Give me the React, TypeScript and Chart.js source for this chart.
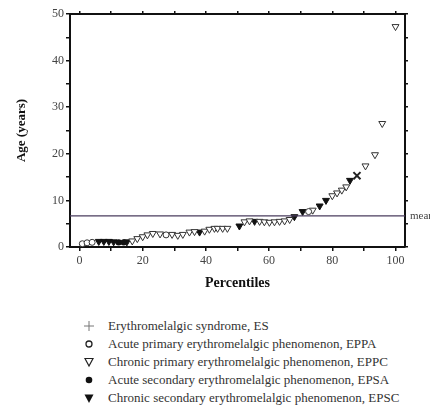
import React, { useEffect, useRef } from "react";
import { Chart, registerables } from "chart.js";

Chart.register(...registerables);

// [percentile, age in years]
const esPoints: [number, number][] = [[87.8, 15.3]];
const eppaPoints: [number, number][] = [
  [0.9, 0.7], [2.4, 0.9], [4.0, 1.0], [27.4, 2.6], [72.5, 7.6],
];
const eppcPoints: [number, number][] = [
  [16.7, 1.3], [18.3, 1.8], [20.0, 2.2], [21.5, 2.6], [23.2, 2.9], [25.5, 2.8],
  [29.3, 2.7], [31.1, 2.5], [32.7, 2.7], [34.8, 3.2], [36.4, 3.3], [39.6, 3.4],
  [41.1, 3.8], [42.7, 4.0], [43.7, 4.0], [45.3, 4.0], [46.8, 4.0], [52.2, 5.4],
  [53.8, 5.6], [57.0, 5.5], [58.5, 5.4], [60.1, 5.3], [61.7, 5.4], [63.3, 5.5],
  [64.9, 5.6], [66.5, 5.9], [73.8, 7.9], [80.0, 11.0], [81.5, 11.6], [83.0, 12.2],
  [84.4, 12.9], [90.5, 17.4], [93.5, 19.8], [95.8, 26.5], [100.0, 47.3],
];
const epsaPoints: [number, number][] = [[12.4, 1.0], [14.0, 1.0]];
const epscPoints: [number, number][] = [
  [6.1, 1.2], [7.7, 1.2], [9.3, 1.2], [10.8, 1.1], [15.0, 1.1], [38.0, 3.2],
  [50.6, 4.5], [55.4, 5.5], [68.0, 6.5], [70.6, 7.6], [76.0, 8.8], [78.0, 10.0],
  [85.6, 14.3],
];
const meanAge = 6.7;
const xRange = [-3, 103];
const yRange = [0, 50];
const xTicks = [0, 10, 20, 30, 40, 50, 60, 70, 80, 90, 100];
const yTicks = [0, 5, 10, 15, 20, 25, 30, 35, 40, 45, 50];

const legendLabels = [
  "Erythromelalgic syndrome, ES",
  "Acute primary erythromelalgic phenomenon, EPPA",
  "Chronic primary erythromelalgic phenomenon, EPPC",
  "Acute secondary erythromelalgic phenomenon, EPSA",
  "Chronic secondary erythromelalgic phenomenon, EPSC",
];

const FONT = "'Liberation Serif', 'Times New Roman', serif";
const toXY = (arr: [number, number][]) => arr.map(([x, y]) => ({ x, y }));

function LegendMarker({ kind }: { kind: number }) {
  const s = { width: 12, height: 12, display: "block" } as React.CSSProperties;
  if (kind === 0)
    return (
      <svg style={s} viewBox="0 0 12 12">
        <line x1="1" y1="6" x2="11" y2="6" stroke="#777" strokeWidth="1" />
        <line x1="6" y1="1" x2="6" y2="11" stroke="#777" strokeWidth="1" />
      </svg>
    );
  if (kind === 1)
    return (
      <svg style={s} viewBox="0 0 12 12">
        <circle cx="6" cy="6" r="3" fill="none" stroke="#222" strokeWidth="1.3" />
      </svg>
    );
  if (kind === 2)
    return (
      <svg style={s} viewBox="0 0 12 12">
        <polygon points="2,2.5 10,2.5 6,10" fill="none" stroke="#222" strokeWidth="1.2" />
      </svg>
    );
  if (kind === 3)
    return (
      <svg style={s} viewBox="0 0 12 12">
        <circle cx="6" cy="6" r="3.3" fill="#111" />
      </svg>
    );
  return (
    <svg style={s} viewBox="0 0 12 12">
      <polygon points="1.5,2.5 10.5,2.5 6,11" fill="#111" />
    </svg>
  );
}

export default function App() {
  const ref = useRef<HTMLCanvasElement>(null);

  useEffect(() => {
    if (!ref.current) return;
    const meanPlugin = {
      id: "meanLabel",
      afterDraw(chart: any) {
        const { ctx, chartArea, scales } = chart;
        const y = scales.y.getPixelForValue(meanAge);
        ctx.save();
        ctx.font = `11px ${FONT}`;
        ctx.fillStyle = "#444";
        ctx.textAlign = "left";
        ctx.textBaseline = "middle";
        ctx.fillText("mean", chartArea.right + 5, y);
        ctx.restore();
      },
    };
    const setTicks = (vals: number[]) => (s: any) => {
      s.ticks = vals.map((v) => ({ value: v }));
    };
    const chart = new Chart(ref.current, {
      type: "scatter",
      data: {
        datasets: [
          {
            label: "mean",
            data: [
              { x: xRange[0], y: meanAge },
              { x: xRange[1], y: meanAge },
            ],
            showLine: true,
            borderColor: "#4a3d5e",
            borderWidth: 1.3,
            pointRadius: 0,
          } as any,
          {
            label: legendLabels[0],
            data: toXY(esPoints),
            pointStyle: "crossRot",
            pointRadius: 5,
            borderWidth: 2,
            borderColor: "#222",
          },
          {
            label: legendLabels[1],
            data: toXY(eppaPoints),
            pointStyle: "circle",
            pointRadius: 3,
            borderWidth: 1,
            borderColor: "#333",
            backgroundColor: "#fff",
          },
          {
            label: legendLabels[2],
            data: toXY(eppcPoints),
            pointStyle: "triangle",
            rotation: 180,
            pointRadius: 4,
            borderWidth: 1,
            borderColor: "#333",
            backgroundColor: "#fff",
          } as any,
          {
            label: legendLabels[3],
            data: toXY(epsaPoints),
            pointStyle: "circle",
            pointRadius: 3.2,
            borderWidth: 0,
            backgroundColor: "#111",
          },
          {
            label: legendLabels[4],
            data: toXY(epscPoints),
            pointStyle: "triangle",
            rotation: 180,
            pointRadius: 4,
            borderWidth: 1,
            borderColor: "#111",
            backgroundColor: "#111",
          } as any,
        ],
      },
      options: {
        animation: false,
        responsive: false,
        maintainAspectRatio: false,
        layout: { padding: { top: 0, bottom: 8, left: 0, right: 0 } },
        plugins: { legend: { display: false }, tooltip: { enabled: false } },
        scales: {
          x: {
            type: "linear",
            position: "bottom",
            min: xRange[0],
            max: xRange[1],
            afterBuildTicks: setTicks(xTicks),
            afterFit: (s: any) => {
              s.height = 45;
            },
            ticks: {
              autoSkip: false,
              maxRotation: 0,
              padding: 3,
              color: "#444",
              font: { family: FONT, size: 12 },
              callback: (v: any) => (Number(v) % 20 === 0 ? String(v) : ""),
            },
            grid: { drawOnChartArea: false, drawTicks: true, tickLength: 4, color: "#111", lineWidth: 1.5 },
            border: { color: "#111", width: 2 },
            title: {
              display: true,
              text: "Percentiles",
              color: "#111",
              font: { family: FONT, size: 14, weight: "bold" },
              padding: { top: 2, bottom: 0 },
            },
          },
          x2: {
            type: "linear",
            axis: "x",
            position: "top",
            min: xRange[0],
            max: xRange[1],
            afterBuildTicks: setTicks(xTicks),
            afterFit: (s: any) => {
              s.height = 14;
            },
            ticks: { display: false },
            grid: { drawOnChartArea: false, drawTicks: true, tickLength: 3, color: "#111", lineWidth: 1.5 },
            border: { color: "#111", width: 2 },
          } as any,
          y: {
            type: "linear",
            position: "left",
            min: yRange[0],
            max: yRange[1],
            afterBuildTicks: setTicks(yTicks),
            afterFit: (s: any) => {
              s.width = 70;
            },
            ticks: {
              autoSkip: false,
              padding: 2,
              color: "#444",
              font: { family: FONT, size: 12 },
              callback: (v: any) => (Number(v) % 10 === 0 ? String(v) : ""),
            },
            grid: { drawOnChartArea: false, drawTicks: true, tickLength: 4, color: "#111", lineWidth: 1.5 },
            border: { color: "#111", width: 2 },
            title: {
              display: true,
              text: "Age (years)",
              color: "#111",
              font: { family: FONT, size: 13, weight: "bold" },
              padding: { top: 14, bottom: 0 },
            },
          },
          y2: {
            type: "linear",
            axis: "y",
            position: "right",
            min: yRange[0],
            max: yRange[1],
            afterBuildTicks: setTicks(yTicks),
            afterFit: (s: any) => {
              s.width = 33;
            },
            ticks: { display: false },
            grid: { drawOnChartArea: false, drawTicks: true, tickLength: 3, color: "#111", lineWidth: 1.5 },
            border: { color: "#111", width: 2 },
          } as any,
        },
      },
      plugins: [meanPlugin],
    } as any);
    return () => chart.destroy();
  }, []);

  return (
    <div style={{ position: "relative", margin: -8, width: 438, height: 414, background: "#fff", overflow: "hidden" }}>
      <canvas ref={ref} width={438} height={300} style={{ display: "block", width: 438, height: 300 }} />
      <div style={{ position: "absolute", left: 83, top: 317, fontFamily: FONT, fontSize: 13, color: "#333" }}>
        {legendLabels.map((label, i) => (
          <div key={label} style={{ display: "flex", alignItems: "center", height: 18, whiteSpace: "nowrap" }}>
            <div style={{ width: 25 }}>
              <LegendMarker kind={i} />
            </div>
            <span>{label}</span>
          </div>
        ))}
      </div>
    </div>
  );
}
